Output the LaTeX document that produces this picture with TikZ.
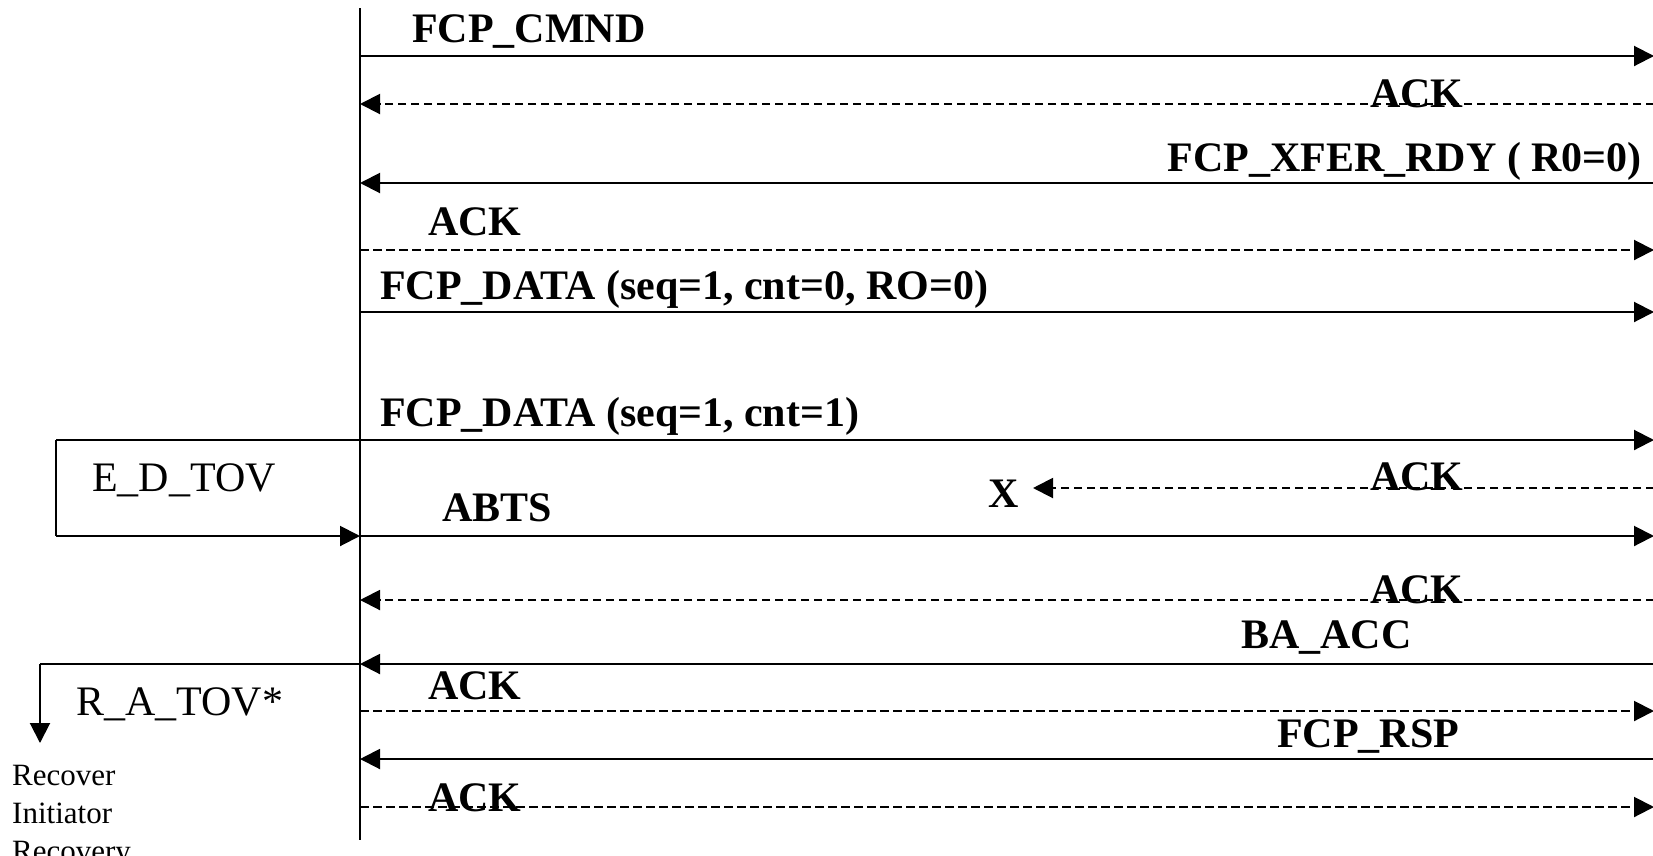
\documentclass[tikz,border=0pt]{standalone}
\usepackage{fontspec}
\setmainfont{Liberation Serif}
\usetikzlibrary{arrows.meta}
\begin{document}
\begin{tikzpicture}[x=1pt,y=-1pt,
  wire/.style={line width=2pt},
  msg/.style={wire,-{Triangle[length=20pt,width=20pt]}},
  ackmsg/.style={msg,dash pattern=on 8.5pt off 4.5pt},
  lbl/.style={inner sep=0pt,anchor=base west,font=\fontsize{42}{50}\selectfont\bfseries},
  lble/.style={lbl,anchor=base east},
  plainlbl/.style={inner sep=0pt,anchor=base west,font=\fontsize{42}{50}\selectfont},
  smalllbl/.style={inner sep=0pt,anchor=base west,font=\fontsize{31}{38}\selectfont}]
\useasboundingbox (0,0) rectangle (1653,855);
% lifeline
\coordinate (top) at (360,8);
\coordinate (bot) at (360,840);
\draw[wire] (top) -- (bot);
% row coordinates
\foreach \n/\y in {1/56,2/104,3/183,4/250,5/312,6/440,8/536,9/600,10/664,11/711,12/759,13/807}{
  \coordinate (L\n) at (360,\y);
  \coordinate (R\n) at (1654,\y);
}
\coordinate (R7) at (1654,488);
\coordinate (X7) at (1033,488);
% messages
\draw[msg] (L1) -- (R1);
\draw[ackmsg] (R2) -- (L2);
\draw[msg] (R3) -- (L3);
\draw[ackmsg] (L4) -- (R4);
\draw[msg] (L5) -- (R5);
\draw[ackmsg] (R7) -- (X7);
\draw[msg] (L8) -- (R8);
\draw[ackmsg] (R9) -- (L9);
\draw[msg] (R10) -- (L10);
\draw[ackmsg] (L11) -- (R11);
\draw[msg] (R12) -- (L12);
\draw[ackmsg] (L13) -- (R13);
% E_D_TOV timer
\coordinate (ed1) at (56,440);
\coordinate (ed2) at (56,536);
\draw[msg] (ed1) -- (R6);
\draw[wire] (ed1) -- (ed2);
\draw[msg] (ed2) -- (L8);
% R_A_TOV timer
\coordinate (ra1) at (40,664);
\coordinate (ra2) at (40,743);
\draw[wire] (L10) -- (ra1);
\draw[msg] (ra1) -- (ra2);
% labels
\node[lbl] (t1) at (412,42) {FCP\_CMND};
\node[lbl] (t2) at (1370,107) {ACK};
\node[lble] (t3) at (1642,171) {FCP\_XFER\_RDY ( R0=0)};
\node[lbl] (t4) at (428,235) {ACK};
\node[lbl] (t5) at (380,299) {FCP\_DATA (seq=1, cnt=0, RO=0)};
\node[lbl] (t6) at (380,426) {FCP\_DATA (seq=1, cnt=1)};
\node[lbl] (t7) at (1370,490) {ACK};
\node[lbl] (tx) at (988,507) {X};
\node[lbl] (t8) at (442,521) {ABTS};
\node[lbl] (t9) at (1370,603) {ACK};
\node[lbl] (t10) at (1241,648) {BA\_ACC};
\node[lbl] (t11) at (428,699) {ACK};
\node[lbl] (t12) at (1277,747) {FCP\_RSP};
\node[lbl] (t13) at (428,811) {ACK};
\node[plainlbl] (ed) at (92,491) {E\_D\_TOV};
\node[plainlbl] (ra) at (76,715) {R\_A\_TOV*};
\node[smalllbl] (rc1) at (12,785) {Recover};
\node[smalllbl] (rc2) at (12,823) {Initiator};
\node[smalllbl] (rc3) at (12,861) {Recovery};
\end{tikzpicture}
\end{document}
